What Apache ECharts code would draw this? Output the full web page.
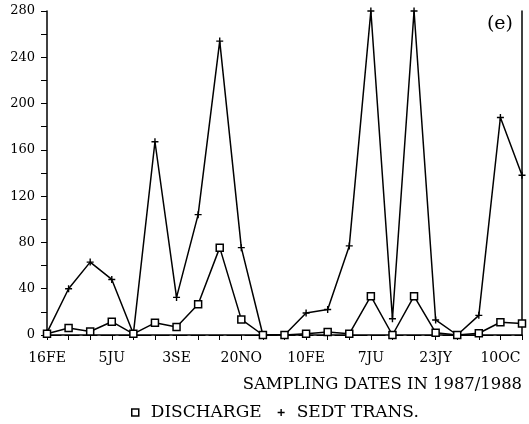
<!DOCTYPE html>
<html>
<head>
<meta charset="utf-8">
<script src="https://cdn.jsdelivr.net/npm/echarts@6/dist/echarts.min.js"></script>
<style>html,body{margin:0;padding:0;background:#fff;}#c{width:529px;height:424px;}</style>
</head>
<body>
<div id="c"></div>
<script>
// sampling index (23 sampling dates)
var categories = ['s0','s1','s2','s3','s4','s5','s6','s7','s8','s9','s10','s11','s12','s13','s14','s15','s16','s17','s18','s19','s20','s21','s22'];
var tickLabels = ['16FE','','','5JU','','','3SE','','','20NO','','','10FE','','','7JU','','','23JY','','','10OC',''];
var discharge = [1, 6, 3, 11.5, 1, 10.5, 7, 26.5, 75.5, 13.5, 0, 0, 1, 2.5, 1, 33.5, 0, 33.5, 2, 0, 1.5, 11, 10];
var sedtTrans = [2, 40, 63, 48, 1, 167, 32.5, 104, 254, 75.5, 0, 0, 19, 22, 77, 280, 14, 280, 13, 0, 17, 188, 138];
var yTicks = [0, 40, 80, 120, 160, 200, 240, 280];

var FONT = 'DejaVu Serif';
var plusPath = 'path://M4,0H6V4H10V6H6V10H4V6H0V4H4Z';

var chart = echarts.init(document.getElementById('c'));
chart.setOption({
  animation: false,
  backgroundColor: '#fff',
  textStyle: { fontFamily: FONT, color: '#000' },
  grid: { left: 47, right: 7, top: 11, bottom: 89, containLabel: false },
  title: [
    { text: '(e)', right: 11, top: 10, textStyle: { fontFamily: FONT, fontSize: 19, fontWeight: 'normal', color: '#000' } },
    { text: 'SAMPLING DATES IN 1987/1988', right: 2, top: 372, textStyle: { fontFamily: FONT, fontSize: 16.4, fontWeight: 'normal', color: '#000' } }
  ],
  legend: {
    left: 126, top: 399, itemGap: 16, itemWidth: 7, itemHeight: 7,
    textStyle: { fontFamily: FONT, fontSize: 17, color: '#000', padding: [0, 0, 0, 7] },
    data: [
      { name: 'DISCHARGE', icon: 'rect', itemStyle: { color: '#fff', borderColor: '#000', borderWidth: 1.5 } },
      { name: 'SEDT TRANS.', icon: plusPath, itemStyle: { color: '#000' } }
    ]
  },
  xAxis: [
    {
      type: 'category', data: categories, boundaryGap: false,
      axisLine: { lineStyle: { color: '#000', width: 1.5 } },
      axisTick: { show: true, interval: 0, inside: false, length: 5, lineStyle: { color: '#000', width: 1 } },
      axisLabel: { interval: 0, margin: 16, fontFamily: FONT, fontSize: 14, color: '#000',
        formatter: function (v, i) { return tickLabels[i]; } },
      splitLine: { show: false }
    },
    {
      type: 'category', data: categories, boundaryGap: false, position: 'top',
      axisLine: { lineStyle: { color: '#000', width: 1.2, type: [14, 4] } },
      axisTick: { show: false }, axisLabel: { show: false }
    }
  ],
  yAxis: [
    {
      type: 'value', min: 0, max: 280, interval: 20,
      axisLine: { show: true, lineStyle: { color: '#000', width: 1.5 } },
      axisTick: { show: true, inside: false, length: 6, lineStyle: { color: '#000', width: 1 } },
      axisLabel: { margin: 12, fontFamily: FONT, fontSize: 13, color: '#000',
        formatter: function (v) { return yTicks.indexOf(v) >= 0 ? String(v) : ''; } },
      splitLine: { show: false }
    },
    {
      type: 'value', min: 0, max: 280, interval: 20, position: 'right',
      axisLine: { show: true, lineStyle: { color: '#000', width: 1.5 } },
      axisTick: { show: false }, axisLabel: { show: false }, splitLine: { show: false }
    }
  ],
  series: [
    {
      name: 'SEDT TRANS.', type: 'line', data: sedtTrans,
      symbol: plusPath, symbolSize: 7, showAllSymbol: true,
      lineStyle: { color: '#000', width: 1.5 },
      itemStyle: { color: '#000' }, z: 2
    },
    {
      name: 'DISCHARGE', type: 'line', data: discharge,
      symbol: 'rect', symbolSize: 7, showAllSymbol: true,
      lineStyle: { color: '#000', width: 1.5 },
      itemStyle: { color: '#fff', borderColor: '#000', borderWidth: 1.5 }, z: 3
    }
  ]
});
</script>
</body>
</html>
